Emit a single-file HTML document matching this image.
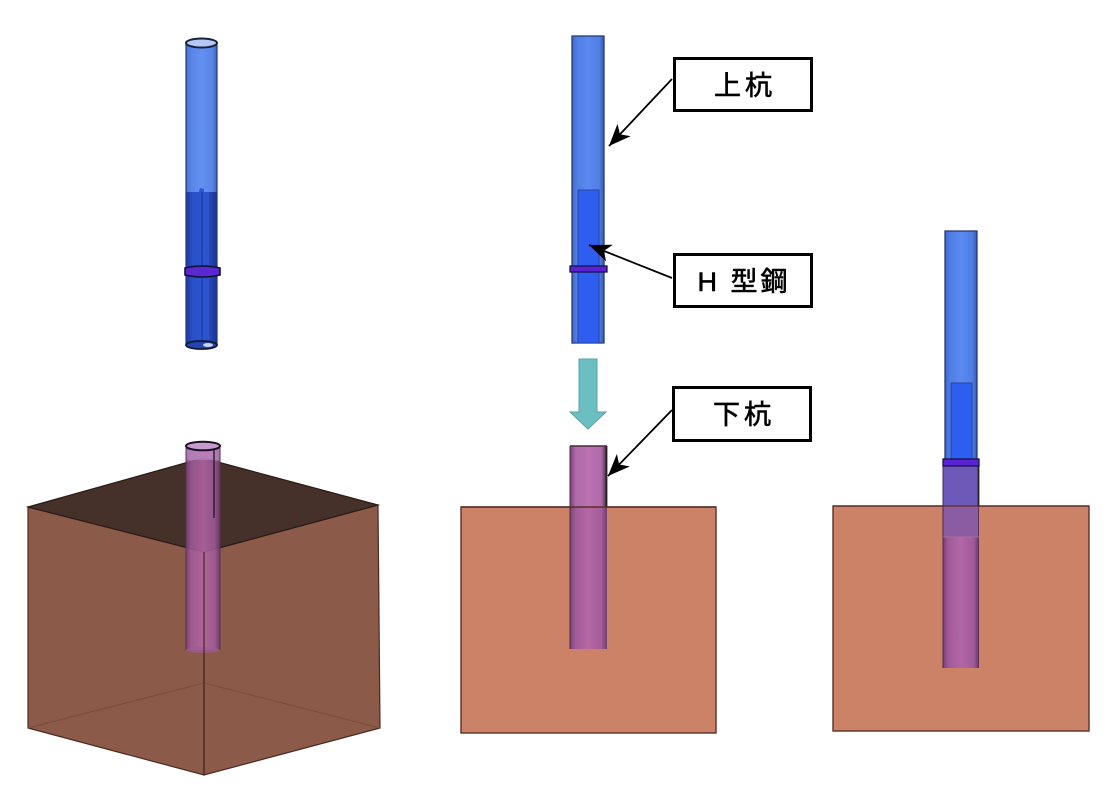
<!DOCTYPE html>
<html><head><meta charset="utf-8"><style>
html,body{margin:0;padding:0;background:#fff;}
svg{display:block;}
text{font-family:"Liberation Sans","Noto Sans CJK JP",sans-serif;}
</style></head><body>
<svg width="1114" height="788" viewBox="0 0 1114 788" xmlns="http://www.w3.org/2000/svg">
<defs>
<linearGradient id="lb" x1="0" x2="1" y1="0" y2="0">
<stop offset="0" stop-color="#3f68c8"/><stop offset="0.15" stop-color="#4f7ee4"/><stop offset="0.5" stop-color="#5a8af0"/><stop offset="0.85" stop-color="#4f7ee4"/><stop offset="1" stop-color="#3a5cb0"/>
</linearGradient>
<linearGradient id="db" x1="0" x2="1" y1="0" y2="0">
<stop offset="0" stop-color="#1c3a9c"/><stop offset="0.2" stop-color="#2a50c8"/><stop offset="0.6" stop-color="#2d56d4"/><stop offset="1" stop-color="#1a3590"/>
</linearGradient>
<linearGradient id="pp" x1="0" x2="1" y1="0" y2="0">
<stop offset="0" stop-color="#7a3f78"/><stop offset="0.15" stop-color="#a05a9a"/><stop offset="0.5" stop-color="#b466a8"/><stop offset="0.85" stop-color="#a05a9a"/><stop offset="1" stop-color="#6a3a68"/>
</linearGradient>
<linearGradient id="pp2" x1="0" x2="1" y1="0" y2="0">
<stop offset="0" stop-color="#7a4078"/><stop offset="0.15" stop-color="#b06aaa"/><stop offset="0.5" stop-color="#bb72b2"/><stop offset="0.85" stop-color="#b06aaa"/><stop offset="1" stop-color="#3a2838"/>
</linearGradient>
<marker id="ah" markerWidth="24" markerHeight="18" refX="22" refY="9" orient="auto" markerUnits="userSpaceOnUse">
<path d="M0,0 L22,9 L0,18 L6,9 z" fill="#000"/>
</marker>
</defs>

<!-- ===== LEFT TOP PILE ===== -->
<rect x="186" y="43" width="31" height="150" fill="url(#lb)" opacity="0.95"/>
<path d="M186,192 L199,192 L200,188 L204,189 L204,192 L217,192 L217,345 L186,345 z" fill="url(#db)"/>
<line x1="202" y1="192" x2="202" y2="345" stroke="#1a3490" stroke-width="1"/>
<line x1="208" y1="192" x2="208" y2="345" stroke="#4a6ad8" stroke-width="1" opacity="0.6"/>
<line x1="186" y1="43" x2="186" y2="346" stroke="#223a80" stroke-width="1.2"/>
<line x1="217" y1="43" x2="217" y2="346" stroke="#223a80" stroke-width="1.2"/>
<ellipse cx="201.5" cy="43" rx="15.5" ry="4.5" fill="#b4c8f4" stroke="#1a2040" stroke-width="2"/>
<ellipse cx="201.5" cy="345" rx="15.5" ry="4" fill="#2444b0" stroke="#111830" stroke-width="1.8"/>
<ellipse cx="208" cy="345" rx="5" ry="2" fill="#c8d4f0"/>
<path d="M185,268 Q202,264 220,268 L220,275 Q202,279 185,275 z" fill="#5a28d0" stroke="#101030" stroke-width="1.6"/>

<!-- ===== LEFT BOX ===== -->
<polygon points="28,728 204,680 380,728 204,775" fill="#84523f"/>
<polygon points="28,507 204,552 204,775 28,728" fill="#8b5a48" stroke="#4a2a22" stroke-width="1.2"/>
<polygon points="204,552 378,505 380,728 204,775" fill="#8b5a48" stroke="#4a2a22" stroke-width="1.2"/>
<polyline points="28,728 204,683 380,728" fill="none" stroke="#7a4c3c" stroke-width="1"/>
<line x1="204" y1="683" x2="204" y2="552" stroke="#7a4c3c" stroke-width="0.8"/>
<polygon points="28,507 203,458 378,505 204,552" fill="#45302a" stroke="#2a1a16" stroke-width="1.2"/>
<!-- pile in box -->
<rect x="186" y="446" width="34" height="204" fill="url(#pp)" opacity="0.85"/>
<rect x="186" y="446" width="34" height="14" fill="#b582bc" opacity="0.7"/>
<ellipse cx="203" cy="650" rx="17" ry="3" fill="#a05a9a" opacity="0.7"/>
<line x1="214" y1="448" x2="214" y2="518" stroke="#2a1830" stroke-width="1.4"/>
<line x1="186" y1="446" x2="186" y2="650" stroke="#5a3058" stroke-width="1"/>
<line x1="220" y1="446" x2="220" y2="650" stroke="#5a3058" stroke-width="1"/>
<line x1="204" y1="552" x2="204" y2="775" stroke="#4a2a22" stroke-width="1.2"/>
<ellipse cx="203" cy="446" rx="17" ry="4.3" fill="#c89ad0" stroke="#1a1020" stroke-width="2"/>

<!-- ===== MIDDLE UPPER PILE ===== -->
<rect x="572" y="36" width="32" height="307" fill="url(#lb)" stroke="#2a3a70" stroke-width="1.3"/>
<rect x="578" y="190" width="21" height="153" fill="#2d5ef0" stroke="#2a44a0" stroke-width="1"/>
<rect x="570" y="266" width="37" height="6" fill="#5a22d0" stroke="#1a1050" stroke-width="1.3"/>

<!-- teal arrow -->
<path d="M579,359 L597,359 L597,412 L606,412 L588,429 L570,412 L579,412 z" fill="#6cbfc0" stroke="#5aa3aa" stroke-width="1"/>

<!-- ===== MIDDLE LOWER ===== -->
<rect x="461" y="507" width="255" height="226" fill="#cc8266" stroke="#5a3028" stroke-width="1.4"/>
<rect x="570" y="446" width="37" height="61" fill="url(#pp2)"/>
<rect x="570" y="507" width="37" height="142" fill="url(#pp)" opacity="0.95"/>
<line x1="570" y1="446" x2="570" y2="649" stroke="#4a2a40" stroke-width="1"/>
<line x1="606.5" y1="446" x2="606.5" y2="507" stroke="#222" stroke-width="1.8"/>
<line x1="570" y1="446" x2="607" y2="446" stroke="#4a2a40" stroke-width="1.5"/>
<line x1="461" y1="507" x2="716" y2="507" stroke="#5a3028" stroke-width="1.4"/>

<!-- ===== RIGHT ===== -->
<rect x="833" y="506" width="256" height="225" fill="#cc8266" stroke="#5a3028" stroke-width="1.4"/>
<rect x="945" y="231" width="32" height="235" fill="url(#lb)" stroke="#2a3a70" stroke-width="1.3"/>
<rect x="951" y="383" width="21" height="76" fill="#2d5ef0" stroke="#2a44a0" stroke-width="1"/>
<rect x="943" y="466" width="36" height="40" fill="#6e58b8"/>
<rect x="943" y="506" width="36" height="31" fill="#8c5ca2"/>
<rect x="943" y="537" width="36" height="131" fill="url(#pp)"/>
<line x1="943" y1="466" x2="943" y2="668" stroke="#4a2a50" stroke-width="1"/>
<line x1="978.5" y1="466" x2="978.5" y2="506" stroke="#222" stroke-width="1.8"/>
<line x1="978.5" y1="506" x2="978.5" y2="668" stroke="#5a3058" stroke-width="1"/>
<line x1="833" y1="506" x2="1089" y2="506" stroke="#5a3028" stroke-width="1.2"/>
<line x1="943" y1="537" x2="979" y2="537" stroke="#b07090" stroke-width="0.8"/>
<rect x="943" y="459" width="36" height="7" fill="#5a22d0" stroke="#1a1050" stroke-width="1.3"/>

<!-- ===== LABELS ===== -->
<line x1="672" y1="79" x2="609" y2="146" stroke="#000" stroke-width="1.8" marker-end="url(#ah)"/>
<line x1="672" y1="278" x2="589" y2="245" stroke="#000" stroke-width="1.8" marker-end="url(#ah)"/>
<line x1="672" y1="410" x2="608" y2="476" stroke="#000" stroke-width="1.8" marker-end="url(#ah)"/>

<rect x="674.5" y="58.5" width="137" height="52" fill="#fff" stroke="#000" stroke-width="3"/>
<text x="745" y="95" font-size="27" text-anchor="middle" letter-spacing="4" stroke="#000" stroke-width="0.6">上杭</text>

<rect x="674.5" y="254.5" width="137" height="52" fill="#fff" stroke="#000" stroke-width="3"/>
<text x="744" y="291" font-size="27" text-anchor="middle" letter-spacing="3" stroke="#000" stroke-width="0.6">H 型鋼</text>

<rect x="673.5" y="387.5" width="137" height="53" fill="#fff" stroke="#000" stroke-width="3"/>
<text x="744" y="424" font-size="27" text-anchor="middle" letter-spacing="4" stroke="#000" stroke-width="0.6">下杭</text>
</svg>
</body></html>
